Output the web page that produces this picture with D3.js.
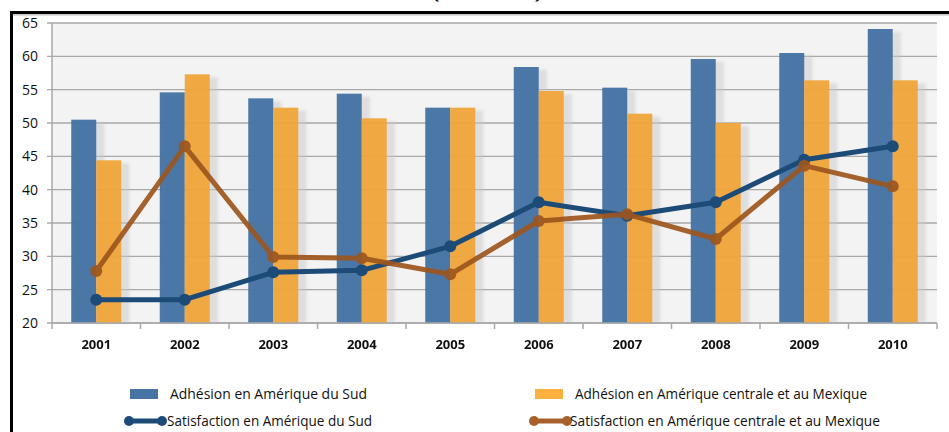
<!DOCTYPE html>
<html><head><meta charset="utf-8">
<script src="https://cdnjs.cloudflare.com/ajax/libs/d3/7.8.5/d3.min.js"></script>
<style>html,body{margin:0;padding:0;background:#fff;}svg{display:block;}</style>
</head><body>
<script>
const years = ["2001","2002","2003","2004","2005","2006","2007","2008","2009","2010"];
const adhesionSud = [50.5, 54.6, 53.7, 54.4, 52.3, 58.4, 55.3, 59.6, 60.5, 64.1];
const adhesionCentre = [44.4, 57.3, 52.3, 50.7, 52.3, 54.8, 51.4, 50.0, 56.4, 56.4];
const satisfactionSud = [23.5, 23.5, 27.6, 27.9, 31.5, 38.1, 36.1, 38.1, 44.5, 46.5];
const satisfactionCentre = [27.8, 46.5, 29.9, 29.7, 27.3, 35.3, 36.3, 32.6, 43.6, 40.5];
const yTicks = [20,25,30,35,40,45,50,55,60,65];
const seriesNames = ["Adhésion en Amérique du Sud","Adhésion en Amérique centrale et au Mexique","Satisfaction en Amérique du Sud","Satisfaction en Amérique centrale et au Mexique"];
const titleText = "(2001-2010)";

(function(){
const W = 949, H = 432;
const svg = d3.select("body").append("svg").attr("width", W).attr("height", H);
const defs = svg.append("defs");
const flt = defs.append("filter").attr("id","sh").attr("x","-20%").attr("y","-5%").attr("width","160%").attr("height","110%");
flt.append("feGaussianBlur").attr("in","SourceGraphic").attr("stdDeviation",1.5);

const C = {blue:"#4674a5", orange:"#f0a436", lblue:"#1d4b78", brown:"#9d561e", grid:"#a9a9a9", bg:"#f3f3f3"};

svg.append("text").attr("x",433).attr("y",-1).attr("textLength",108).attr("lengthAdjust","spacingAndGlyphs")
  .attr("font-family","Open Sans").attr("font-weight","bold").attr("font-size",15).attr("fill","#111").text(titleText);

svg.append("rect").attr("x",11.5).attr("y",12.5).attr("width",W+20).attr("height",H+20)
  .attr("fill","none").attr("stroke","#000").attr("stroke-width",3);
svg.append("line").attr("x1",13).attr("x2",W).attr("y1",14.8).attr("y2",14.8).attr("stroke","#bbb").attr("stroke-width",1.2);

const pl = 52, pr = 937, pt = 23, pb = 323;
const x = d3.scaleBand().domain(years).range([pl, pr]);
const y = d3.scaleLinear().domain([20, 65]).range([pb, pt]);
const bw = 25;

svg.append("rect").attr("x",pl).attr("y",pt).attr("width",pr-pl).attr("height",pb-pt).attr("fill",C.bg);

svg.append("g").selectAll("line").data(yTicks).join("line")
  .attr("x1",pl-5).attr("x2",pr).attr("y1",d=>y(d)).attr("y2",d=>y(d))
  .attr("stroke",C.grid).attr("stroke-width",1.3);

svg.append("g").selectAll("text").data(yTicks).join("text")
  .attr("x",38).attr("y",d=>y(d)+5).attr("text-anchor","end")
  .attr("font-family","Open Sans").attr("font-size",14).attr("fill","#111").text(d=>d);

svg.append("line").attr("x1",pl).attr("x2",pl).attr("y1",pt).attr("y2",pb).attr("stroke",C.grid).attr("stroke-width",1.5);
svg.append("g").selectAll("line").data(d3.range(years.length+1)).join("line")
  .attr("x1",i=>pl + i*x.step()).attr("x2",i=>pl + i*x.step()).attr("y1",pb).attr("y2",pb+6)
  .attr("stroke",C.grid).attr("stroke-width",1.5);

const shadowG = svg.append("g").attr("opacity",0.5);
shadowG.selectAll("rect.a").data(years).join("rect").attr("class","a")
  .attr("x",d=>x(d)+x.bandwidth()/2 - bw + 4).attr("y",(d,i)=>y(adhesionSud[i])+3)
  .attr("width",bw+4).attr("height",(d,i)=>pb - y(adhesionSud[i]) - 3).attr("fill","#c8c8c8").attr("filter","url(#sh)");
shadowG.selectAll("rect.b").data(years).join("rect").attr("class","b")
  .attr("x",d=>x(d)+x.bandwidth()/2 + 4).attr("y",(d,i)=>y(adhesionCentre[i])+3)
  .attr("width",bw+4).attr("height",(d,i)=>pb - y(adhesionCentre[i]) - 3).attr("fill","#c8c8c8").attr("filter","url(#sh)");

svg.append("g").selectAll("rect").data(years).join("rect")
  .attr("x",d=>x(d)+x.bandwidth()/2 - bw).attr("y",(d,i)=>y(adhesionSud[i]))
  .attr("width",bw).attr("height",(d,i)=>pb - y(adhesionSud[i])).attr("fill",C.blue).attr("opacity",0.97);
svg.append("g").selectAll("rect").data(years).join("rect")
  .attr("x",d=>x(d)+x.bandwidth()/2).attr("y",(d,i)=>y(adhesionCentre[i]))
  .attr("width",bw).attr("height",(d,i)=>pb - y(adhesionCentre[i])).attr("fill",C.orange).attr("opacity",0.93);

svg.append("line").attr("x1",pl).attr("x2",pr).attr("y1",pb).attr("y2",pb).attr("stroke",C.grid).attr("stroke-width",1.5);

svg.append("g").selectAll("text").data(years).join("text")
  .attr("x",d=>x(d)+x.bandwidth()/2).attr("y",349).attr("text-anchor","middle")
  .attr("font-family","Open Sans").attr("font-weight","bold").attr("font-size",13).attr("fill","#111").text(d=>d);

function drawLine(vals, color, op){
  const g = svg.append("g").attr("opacity",op);
  const line = d3.line().x((d,i)=>x(years[i])+x.bandwidth()/2).y(d=>y(d));
  g.append("path").datum(vals).attr("d",line).attr("fill","none").attr("stroke",color).attr("stroke-width",5).attr("stroke-linejoin","round");
  g.selectAll("circle").data(vals).join("circle").attr("cx",(d,i)=>x(years[i])+x.bandwidth()/2).attr("cy",d=>y(d)).attr("r",6).attr("fill",color);
}
drawLine(satisfactionSud, C.lblue, 1);
drawLine(satisfactionCentre, C.brown, 0.92);

const lg = svg.append("g").attr("font-family","Liberation Sans Narrow, Open Sans").attr("font-size",14).attr("fill","#111");
const lx = [130, 535];
lg.append("rect").attr("x",lx[0]).attr("y",389).attr("width",28).attr("height",10).attr("fill",C.blue);
lg.append("rect").attr("x",lx[1]).attr("y",389).attr("width",28).attr("height",10).attr("fill","#fbb040");
lg.append("text").attr("x",170).attr("y",399).attr("textLength",197).attr("lengthAdjust","spacingAndGlyphs").text(seriesNames[0]);
lg.append("text").attr("x",575).attr("y",399).attr("textLength",292).attr("lengthAdjust","spacingAndGlyphs").text(seriesNames[1]);
[[0,C.lblue,167,205,seriesNames[2]],[1,"#a8612d",570,310,seriesNames[3]]].forEach(([k,col,tx,tl,name])=>{
  const x0 = lx[k]-1, x1 = lx[k]+32;
  lg.append("line").attr("x1",x0).attr("x2",x1).attr("y1",421).attr("y2",421).attr("stroke",col).attr("stroke-width",5);
  lg.append("circle").attr("cx",x0).attr("cy",421).attr("r",5).attr("fill",col);
  lg.append("circle").attr("cx",x1).attr("cy",421).attr("r",5).attr("fill",col);
  lg.append("text").attr("x",tx).attr("y",426).attr("textLength",tl).attr("lengthAdjust","spacingAndGlyphs").text(name);
});
})();
</script>
</body></html>
